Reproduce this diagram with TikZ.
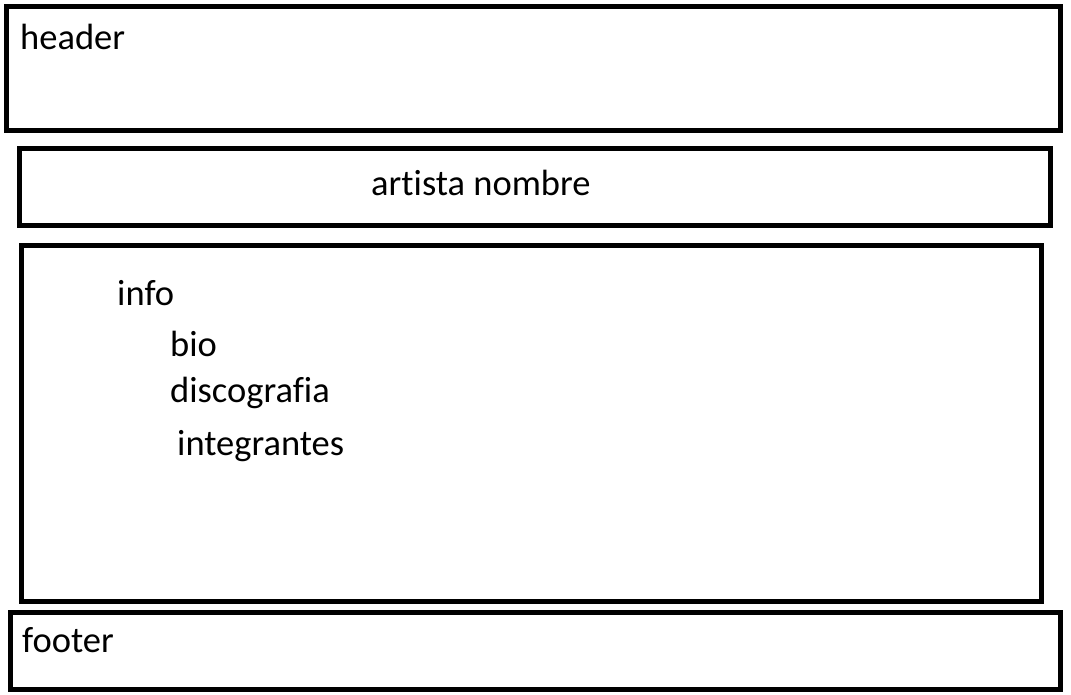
\documentclass[tikz,border=0pt]{standalone}
\usepackage{fontspec}
\setmainfont{Carlito}[Ligatures=NoCommon]
\begin{document}
\begin{tikzpicture}[x=1pt,y=-1pt,
  box/.style={draw=black,line width=5pt,fill=none},
  lbl/.style={anchor=base west,inner sep=0pt,font=\fontsize{36.5}{40}\selectfont}]
\useasboundingbox[fill=white] (0,0) rectangle (1071,695);
\draw[box] (6.5,6.5) rectangle (1060,130.5);
\draw[box] (19.5,149) rectangle (1050,225.5);
\draw[box] (21.5,245.5) rectangle (1041.5,601.5);
\draw[box] (10.5,612.5) rectangle (1060,689.5);
\node[lbl] (header) at (20,50) {header};
\node[lbl] (artista) at (371,196) {artista nombre};
\node[lbl] (info) at (117,305) {info};
\node[lbl] (bio) at (170,356) {bio};
\node[lbl] (disco) at (170,402) {discografia};
\node[lbl] (integ) at (177,455) {integrantes};
\node[lbl] (footer) at (22,652) {footer};
\end{tikzpicture}
\end{document}
